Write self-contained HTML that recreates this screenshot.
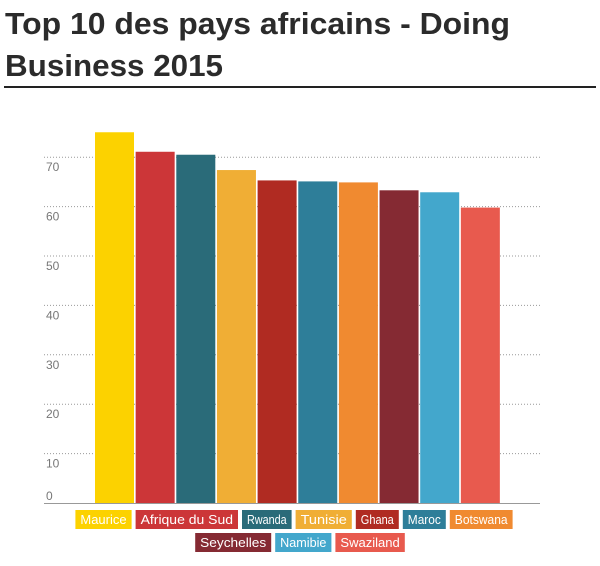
<!DOCTYPE html>
<html><head><meta charset="utf-8"><style>
body{margin:0;background:#fff;width:600px;height:561px;overflow:hidden;font-family:"Liberation Sans",sans-serif}
</style></head><body>
<svg width="600" height="561">
<text x="5" y="34" font-size="31" font-weight="bold" fill="#2b2b2b" textLength="505" lengthAdjust="spacingAndGlyphs">Top 10 des pays africains - Doing</text>
<text x="5" y="76" font-size="31" font-weight="bold" fill="#2b2b2b" textLength="218" lengthAdjust="spacingAndGlyphs">Business 2015</text>
<rect x="4" y="86" width="592" height="2" fill="#222"/>
<g id="grid"></g><g id="bars"></g><g id="legend"></g>
</svg>
<script>
const categories=["Maurice","Afrique du Sud","Rwanda","Tunisie","Ghana","Maroc","Botswana","Seychelles","Namibie","Swaziland"];
const values=[75.05,71.1,70.5,67.4,65.3,65.1,64.9,63.3,62.9,59.8];
const colors=["#fcd200","#cc3638","#2a6b79","#f0ae35","#b02b22","#2e7e99","#f08a30","#852a33","#43a7cc","#e85a4e"];
const ticks=[0,10,20,30,40,50,60,70];
const NS="http://www.w3.org/2000/svg";
const y0=503,pxPer=4.94;
function y(v){return y0-v*pxPer;}
function x(i){return 95+i*40.65;}
function mk(t,a,p,txt){const e=document.createElementNS(NS,t);for(const k in a)e.setAttribute(k,a[k]);if(txt!=null)e.textContent=txt;p.appendChild(e);return e;}
const grid=document.getElementById('grid');
ticks.forEach(t=>{
  if(t>0){const l=mk('line',{x1:44,x2:540,y1:y(t),y2:y(t),stroke:'#999','stroke-dasharray':'1,2','stroke-width':1},grid);
  
  }
  const tx=mk('text',{x:46,y:t===0?y(t)-3:y(t)+14,'font-size':12,fill:'#777'},grid,String(t));
  
  
});
const bars=document.getElementById('bars');
values.forEach((v,i)=>{
  const r=mk('rect',{x:x(i),y:y(v),width:39,height:y0-y(v),fill:colors[i]},bars);
  
  
});
const ax=mk('line',{x1:44,x2:540,y1:y0+0.5,y2:y0+0.5,stroke:'#999','stroke-width':1},bars);


const leg=document.getElementById('legend');
const rows=[[0,1,2,3,4,5,6],[7,8,9]];
const cw=6.6;
rows.forEach((row,ri)=>{
  const widths=row.map(i=>categories[i].length*cw+10);
  const total=widths.reduce((a,b)=>a+b,0)+4*(row.length-1);
  let cx=300-total/2+(ri===0?-6:0);
  const yy=ri===0?510:533;
  row.forEach((i,k)=>{
    const g=mk('g',{},leg);
    
    
    mk('rect',{x:cx,y:yy,width:widths[k],height:19,fill:colors[i]},g);
    mk('text',{x:cx+widths[k]/2,y:yy+14,'font-size':12.5,fill:'#fff','text-anchor':'middle',textLength:widths[k]-10,lengthAdjust:'spacingAndGlyphs'},g,categories[i]);
    cx+=widths[k]+4;
  });
});
</script>
</body></html>
